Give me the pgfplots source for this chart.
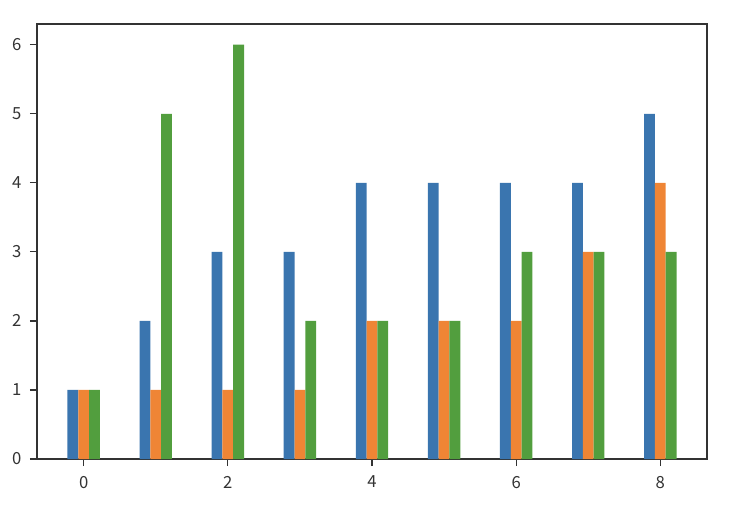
\documentclass[border=0pt]{standalone}
\usepackage{pgfplots}
\pgfplotsset{compat=1.18}
\usepackage{fontspec}
\setmainfont{Noto Sans CJK JP}
\definecolor{cblue}{HTML}{3A75AF}
\definecolor{corange}{HTML}{EF8535}
\definecolor{cgreen}{HTML}{529E3E}
\definecolor{axgray}{HTML}{333333}
\begin{document}
\begin{tikzpicture}[x=1pt,y=1pt]
\begin{axis}[
  at={(0pt,0pt)}, anchor=south west,
  scale only axis,
  width=502.5pt, height=326.25pt,
  xmin=-0.6475, xmax=8.6475,
  ymin=0, ymax=6.3,
  xtick={0,2,4,6,8},
  ytick={0,1,2,3,4,5,6},
  xtick pos=bottom, ytick pos=left,
  tick align=outside,
  major tick length=5.25pt,
  axis line style={axgray, line width=0.9pt},
  every tick/.style={axgray, line width=0.9pt},
  tick label style={font=\fontsize{12.5}{14}\selectfont, text=axgray},
  /pgf/number format/assume math mode=true,
  xticklabel style={yshift=-4pt},
  yticklabel style={xshift=-3pt},
  clip=false,
]
\addplot[ybar, fill=cblue, draw=none, bar width=0.15, bar shift=0pt] coordinates {(-0.15,1) (0.85,2) (1.85,3) (2.85,3) (3.85,4) (4.85,4) (5.85,4) (6.85,4) (7.85,5)};
\addplot[ybar, fill=corange, draw=none, bar width=0.15, bar shift=0pt] coordinates {(0,1) (1,1) (2,1) (3,1) (4,2) (5,2) (6,2) (7,3) (8,4)};
\addplot[ybar, fill=cgreen, draw=none, bar width=0.15, bar shift=0pt] coordinates {(0.15,1) (1.15,5) (2.15,6) (3.15,2) (4.15,2) (5.15,2) (6.15,3) (7.15,3) (8.15,3)};
\end{axis}
\pgfresetboundingbox
\path[use as bounding box] (-27.75pt,-44.25pt) rectangle (525.75pt,344.25pt);
\end{tikzpicture}
\end{document}
